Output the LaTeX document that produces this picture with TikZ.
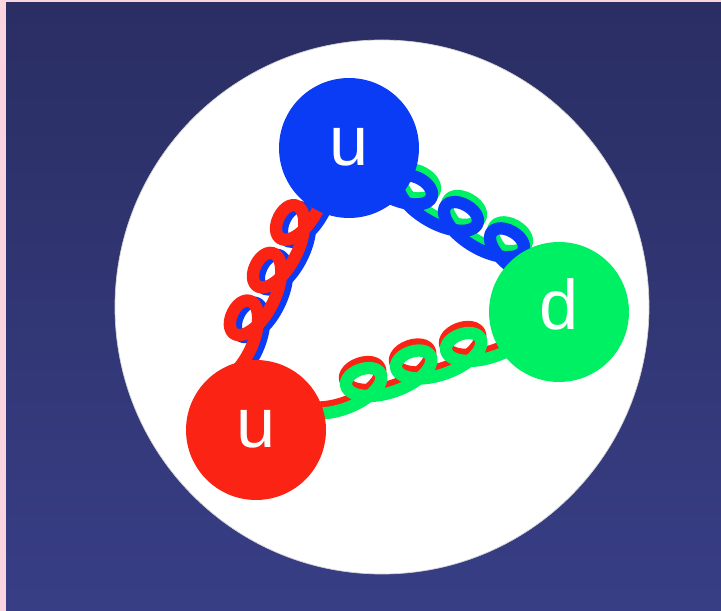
\documentclass[tikz,border=0pt]{standalone}
\usepackage{fontspec}
\setsansfont{Liberation Sans}
\usetikzlibrary{decorations.pathmorphing, calc}
\definecolor{qRed}{HTML}{FA2314}
\definecolor{qBlue}{HTML}{0A3CF5}
\definecolor{qGreen}{HTML}{00F064}
\definecolor{bgPink}{HTML}{FAD5E0}
\definecolor{bgTop}{HTML}{2A2E63}
\definecolor{bgBot}{HTML}{383E85}
\pgfdeclarelayer{back}
\pgfdeclarelayer{glue}
\pgfsetlayers{back,glue,main}

\begin{document}
\begin{tikzpicture}[x=0.02cm, y=-0.02cm,
  quark/.style={circle, minimum size=2.8cm, inner sep=0pt, fill=#1, text=white,
                text height=0.72cm, text depth=0pt,
                font=\sffamily\fontsize{40}{44}\selectfont},
  gluon/.style={draw=#1, line width=7pt, line cap=round, line join=round,
                decorate, decoration={coil, aspect=1.9, amplitude=0.32cm,
                segment length=1.06cm, raise=-0.36cm}},
  ends/.style 2 args={decoration={pre length=#1, post length=#2}}
]
  % proton background
  \begin{pgfonlayer}{back}
    \fill[bgPink] (0,0) rectangle (721,611);
    \shade[top color=bgTop, bottom color=bgBot] (6,3) rectangle (721,611);
    \fill[white, draw=gray!35] (382,307) circle[radius=267];
  \end{pgfonlayer}

  % quarks
  \node[quark=qBlue] (bu) at (349,148) {u};
  \node[quark=qGreen] (gd) at (559,312) {d};
  \node[quark=qRed] (ru) at (256,430) {u};

  % gluons, each a coil with a coloured shadow
  \begin{pgfonlayer}{glue}
    \draw[gluon=qBlue, ends={0.70cm}{0.96cm}, transform canvas={xshift=0.12cm, yshift=-0.04cm}]
      ($(bu.245)!-0.5!(ru.97)$) -- ($(ru.97)!-0.5!(bu.245)$);
    \draw[gluon=qRed, ends={0.70cm}{0.96cm}]
      ($(bu.245)!-0.5!(ru.97)$) -- ($(ru.97)!-0.5!(bu.245)$);
    \draw[gluon=qGreen, ends={0.1cm}{0.1cm}, transform canvas={xshift=0.06cm, yshift=0.12cm}]
      ($(gd.140)!-0.5!(bu.309)$) -- ($(bu.309)!-0.5!(gd.140)$);
    \draw[gluon=qBlue, ends={0.1cm}{0.1cm}]
      ($(gd.140)!-0.5!(bu.309)$) -- ($(bu.309)!-0.5!(gd.140)$);
    \draw[gluon=qRed, ends={0.42cm}{0.66cm}, transform canvas={xshift=-0.02cm, yshift=0.12cm}]
      ($(gd.218)!-0.3!(ru.10)$) -- ($(ru.10)!-0.3!(gd.218)$);
    \draw[gluon=qGreen, ends={0.42cm}{0.66cm}]
      ($(gd.218)!-0.3!(ru.10)$) -- ($(ru.10)!-0.3!(gd.218)$);
  \end{pgfonlayer}
\end{tikzpicture}
\end{document}
